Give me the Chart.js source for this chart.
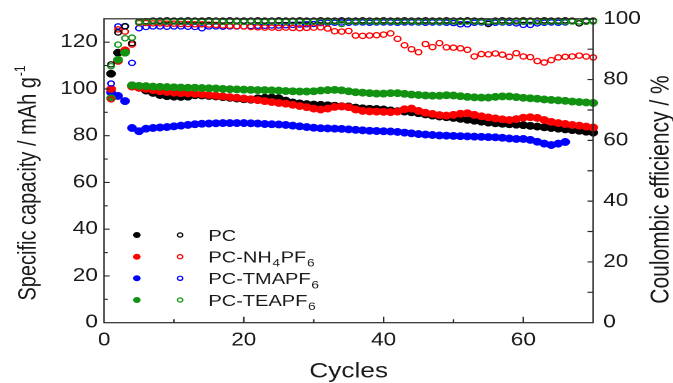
<!DOCTYPE html>
<html><head><meta charset="utf-8">
<script src="https://cdn.jsdelivr.net/npm/chart.js@4.4.0/dist/chart.umd.min.js"></script>
<style>
html,body{margin:0;padding:0;background:#fff;overflow:hidden;width:673px;height:383px;}
#wrap{position:absolute;left:0;top:0;width:538px;height:383px;transform:scaleX(1.2509);transform-origin:0 0;}
</style></head><body>
<div id="wrap"><canvas id="c"></canvas></div>
<script>
// ---------------- data ----------------
const cycles = [1,2,3,4,5,6,7,8,9,10,11,12,13,14,15,16,17,18,19,20,21,22,23,24,25,26,27,28,29,30,31,32,33,34,35,36,37,38,39,40,41,42,43,44,45,46,47,48,49,50,51,52,53,54,55,56,57,58,59,60,61,62,63,64,65,66,67,68,69,70];

// specific capacity (left axis, filled symbols)
const capPC = [106.5,115.5,116,101.5,100.5,99.3,98.3,97.4,96.9,96.7,96.6,96.7,97.3,97.2,97,96.8,96.5,96.2,95.9,95.6,95.4,96,96.2,96.3,96,95,94.2,93.8,93.5,93.3,93.2,93,92.8,92.6,92.5,92,91.7,91.5,91.4,91.2,90.8,90.5,90.3,90,89.6,89.1,88.6,88.2,87.9,87.6,87.2,86.8,86.4,86,85.6,85.3,85.1,84.9,84.7,84.5,84.2,83.9,83.6,83.3,83,82.7,82.4,82.1,81.7,81.3];
const capNH4 = [100,112,116.5,101,100.5,100,99.5,99,98.7,98.4,98.2,98.1,97.9,97.7,97.4,97.1,96.8,96.5,96.2,95.9,95.6,95.2,94.8,94.4,94,93.7,93.2,92.7,92.2,91.6,91.2,91.6,92.3,92.5,92.2,91.2,90.6,90.4,90.3,90.2,90.1,90.3,91.3,91.6,90.6,89.8,89.3,88.8,88.6,88.9,89.4,89.6,88.9,88.3,87.8,87.4,87,86.7,87.1,87.7,87.9,87.6,86.7,85.9,85.4,85,84.6,84.3,83.9,83.5];
const capTMA = [98.5,97,94.8,83.3,81.9,83,83.3,83.5,83.7,84,84.3,84.6,84.9,85.1,85.2,85.3,85.4,85.4,85.4,85.4,85.3,85.2,85,84.9,84.8,84.6,84.3,84,83.7,83.4,83.2,83.1,83,82.9,82.7,82.5,82.3,82.1,82,81.9,81.8,81.6,81.3,81,80.7,80.5,80.3,80.1,80,79.9,79.8,79.7,79.6,79.5,79.4,79.3,79.1,78.8,78.6,78.6,78.2,77.4,76.6,76,76.6,77.3];
const capTEA = [96,112.5,115.5,101.5,101.3,101.2,101,100.9,100.8,100.7,100.6,100.5,100.5,100.4,100.3,100.2,100,99.9,99.8,99.7,99.6,99.5,99.5,99.4,99.3,99.1,99,98.9,98.9,99,99.3,99.5,99.6,99.4,99,98.6,98.4,98.2,98,98,98.2,98.2,97.9,97.6,97.4,97.2,97.1,97.1,97.3,97.2,96.9,96.6,96.4,96.3,96.3,96.6,96.8,96.8,96.5,96.2,96,95.8,95.5,95.3,95.1,94.9,94.6,94.4,94.2,94];

// coulombic efficiency (right axis, open symbols)
const cePC = [85,95.5,97.5,92,99,99.2,99.4,99.4,99.5,99.4,99.4,99.5,99.4,99.4,99.5,99.4,99.4,99.5,99.4,99.4,99.4,99.5,99.4,99.4,99.5,99.4,99.4,99.5,99.4,99.4,99.5,99.4,99.4,99.5,99.4,99.4,99.5,99.4,99.4,99.5,99.4,99.4,99.5,99.4,99.4,99.5,99.4,99.4,99.5,99.4,99.4,99.5,99.4,99.3,98.3,99.4,99.5,99.4,99.4,99.5,99.4,99.4,99.5,99.4,99.4,99.5,99.4,98.5,99.4,99.4];
const ceNH4 = [73.5,96.5,95.8,91.5,98.6,98.6,98.5,98.5,98.4,98.4,98.3,98.3,98.2,98.2,98.1,98,97.8,97.7,97.6,97.5,97.3,97.2,97.1,97.1,97,97.1,97,96.9,97,97.1,97.2,96.8,95.9,95.8,96,94.5,94.4,94.5,94.6,94.8,95.2,93.4,91.3,90,89,91.7,90.7,92,90.6,90.5,90.3,89.8,87.6,88.4,88.3,88.6,88.2,87.5,88.7,87.6,87.4,86.1,85.6,86.4,87.3,87.5,87.6,87.9,87.6,87.3];
const ceTMA = [78.7,97.5,97.6,85.5,96.9,97.3,97.5,97.5,97.4,97.5,97.5,97.4,97.3,96.9,97.5,97.5,97.4,97.5,97.5,97.5,97.6,97.7,97.7,97.8,97.8,97.9,98,98.1,98.2,98.3,98.6,98.7,98.7,98.8,98.7,98.8,98.8,98.7,98.8,98.8,98.8,98.7,98.8,98.8,98.8,98.7,98.8,98.8,98.7,98.6,98.2,98.2,98.7,98.8,98.8,98.7,98.8,98.7,98.5,98,98,98.5,98.7,98.8,98.7,98.8];
const ceTEA = [84.4,91.5,93.6,93.8,98.8,99,99.1,99,99.1,99.1,99,99.1,99.1,99,99.1,99.1,99,99.1,99.1,99,99.1,99.1,99,99.1,99.1,99,99.1,99.1,99,99.1,99.1,99,99.1,98.3,99.1,99,99.1,99.1,99,99.1,99.1,99,99.1,99.1,99,99.1,99.1,99,99.1,99.1,99,99.1,99.1,99,99.1,99.1,99,99.1,99.1,99,99.1,99.1,99,99.1,99.1,99,99.1,99.1,99,99.1];

const xTickLabels = [0,20,40,60];
const xMinorTicks = [10,30,50];
const leftTickLabels = [0,20,40,60,80,100,120];
const leftMinorTicks = [10,30,50,70,90,110];
const rightTickLabels = [0,20,40,60,80,100];
const rightMinorTicks = [10,30,50,70,90];

// legend labels: [text, isSubscript]
const legendLabels = [
  [['PC',false]],
  [['PC-NH',false],['4',true],['PF',false],['6',true]],
  [['PC-TMAPF',false],['6',true]],
  [['PC-TEAPF',false],['6',true]]
];
const colors = ['#000000','#ff0000','#0000ff','#119211'];

// ---------------- chart ----------------
const FONT = "'Liberation Sans', Arial, sans-serif";
const pts = vals => vals.map((v,i)=>({x:cycles[i], y:v}));

function filled(data,color,order){
  return {data:pts(data), yAxisID:'y', pointRadius:3.7, pointBackgroundColor:color, pointBorderColor:color, pointBorderWidth:0.5, order, clip:false};
}
function open(data,color,order){
  return {data:pts(data), yAxisID:'y2', pointRadius:2.6, pointBackgroundColor:'rgba(255,255,255,0)', pointBorderColor:color, pointBorderWidth:1.3, order, clip:false};
}

const datasets = [
  open(ceTEA,colors[3],1),
  open(cePC,colors[0],2),
  open(ceNH4,colors[1],3),
  open(ceTMA,colors[2],4),
  filled(capTEA,colors[3],5),
  filled(capNH4,colors[1],6),
  filled(capPC,colors[0],7),
  filled(capTMA,colors[2],8)
];

const tickFont = {family:FONT, size:18};

const decor = {
  id:'decor',
  afterDraw(chart){
    const {ctx, chartArea:a, scales:{x,y,y2}} = chart;
    ctx.save();
    ctx.strokeStyle = '#2a2a2a';
    ctx.lineWidth = 1.2;
    ctx.strokeRect(a.left, a.top, a.right-a.left, a.bottom-a.top);
    ctx.beginPath();
    xTickLabels.forEach(v=>{ if(v<=0) return; const p=x.getPixelForValue(v); ctx.moveTo(p,a.bottom); ctx.lineTo(p,a.bottom-6); });
    xMinorTicks.forEach(v=>{ const p=x.getPixelForValue(v); ctx.moveTo(p,a.bottom); ctx.lineTo(p,a.bottom-3.5); });
    leftTickLabels.forEach(v=>{ if(v<=0) return; const p=y.getPixelForValue(v); ctx.moveTo(a.left,p); ctx.lineTo(a.left+4.5,p); });
    leftMinorTicks.forEach(v=>{ const p=y.getPixelForValue(v); ctx.moveTo(a.left,p); ctx.lineTo(a.left+3,p); });
    rightTickLabels.forEach(v=>{ if(v<=0||v>=100) return; const p=y2.getPixelForValue(v); ctx.moveTo(a.right,p); ctx.lineTo(a.right-4.5,p); });
    rightMinorTicks.forEach(v=>{ const p=y2.getPixelForValue(v); ctx.moveTo(a.right,p); ctx.lineTo(a.right-4.5,p); });
    ctx.stroke();

    ctx.fillStyle = '#1a1a1a';
    ctx.textBaseline = 'alphabetic';
    // x title
    ctx.font = '21px '+FONT;
    ctx.textAlign = 'center';
    ctx.fillText('Cycles', (a.left+a.right)/2, 377.5);

    // left title (rotated) with superscript
    ctx.save();
    ctx.translate(21.4, 183.5);
    ctx.rotate(-Math.PI/2);
    ctx.textAlign = 'left';
    ctx.font = '20px '+FONT;
    const main = 'Specific capacity / mAh g';
    const w1 = ctx.measureText(main).width;
    ctx.font = '12px '+FONT;
    const sup = '-1';
    const w2 = ctx.measureText(sup).width;
    const sx = -(w1+w2)/2;
    ctx.font = '20px '+FONT;
    ctx.fillText(main, sx, 7);
    ctx.font = '12px '+FONT;
    ctx.fillText(sup, sx+w1+1, -1.5);
    ctx.restore();

    // right title
    ctx.save();
    ctx.translate(527.2, 189.5);
    ctx.rotate(-Math.PI/2);
    ctx.textAlign = 'center';
    ctx.font = '21px '+FONT;
    ctx.fillText('Coulombic efficiency / %', 0, 7.5);
    ctx.restore();

    // legend
    const rowY = [235, 256.7, 278.3, 300];
    legendLabels.forEach((parts,i)=>{
      const yy = rowY[i];
      ctx.fillStyle = colors[i];
      ctx.beginPath(); ctx.arc(109.4, yy, 3, 0, Math.PI*2); ctx.fill();
      ctx.strokeStyle = colors[i]; ctx.lineWidth = 1.2;
      ctx.beginPath(); ctx.arc(144, yy, 2.1, 0, Math.PI*2); ctx.stroke();
      ctx.fillStyle = '#1a1a1a';
      ctx.textAlign = 'left';
      let xx = 166.6;
      parts.forEach(([t,sub])=>{
        ctx.font = (sub?'11px ':'16px ')+FONT;
        ctx.fillText(t, xx, yy + (sub?10:5.8));
        xx += ctx.measureText(t).width + 0.5;
      });
    });
    ctx.restore();
  }
};

new Chart(document.getElementById('c'), {
  type:'scatter',
  data:{datasets},
  options:{
    responsive:true, maintainAspectRatio:false, animation:false, devicePixelRatio:2,
    layout:{padding:{top:17.3,left:0,right:0,bottom:0}},
    plugins:{legend:{display:false}, tooltip:{enabled:false}},
    scales:{
      x:{type:'linear', min:0, max:70,
        afterBuildTicks:s=>{s.ticks = xTickLabels.map(v=>({value:v}));},
        afterFit:s=>{s.height = 60.3;},
        grid:{display:false, drawTicks:false}, border:{display:false},
        ticks:{font:tickFont, color:'#1a1a1a', padding:7, maxRotation:0, autoSkip:false}},
      y:{type:'linear', position:'left', min:0, max:130,
        afterBuildTicks:s=>{s.ticks = leftTickLabels.map(v=>({value:v}));},
        afterFit:s=>{s.width = 83.2;},
        grid:{display:false, drawTicks:false}, border:{display:false},
        ticks:{font:tickFont, color:'#1a1a1a', padding:5, autoSkip:false}},
      y2:{type:'linear', position:'right', min:0, max:100,
        afterBuildTicks:s=>{s.ticks = rightTickLabels.map(v=>({value:v}));},
        afterFit:s=>{s.width = 63.8;},
        grid:{display:false, drawTicks:false}, border:{display:false},
        ticks:{font:tickFont, color:'#1a1a1a', padding:8, autoSkip:false}}
    }
  },
  plugins:[decor]
});
</script>
</body></html>
